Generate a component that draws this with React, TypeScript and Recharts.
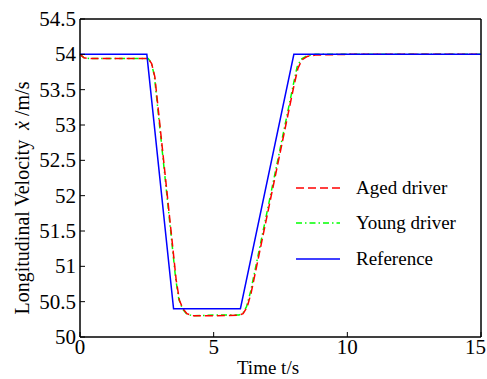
import React from "react";
import {
  LineChart,
  Line,
  XAxis,
  YAxis,
  Legend,
  ReferenceArea,
} from "recharts";

// velocity traces (t in s, v in m/s)
const referenceSpeed = [
  { t: 0, v: 54 },
  { t: 2.5, v: 54 },
  { t: 3.5, v: 50.4 },
  { t: 6, v: 50.4 },
  { t: 8, v: 54 },
  { t: 15, v: 54 },
];

const agedDriver = [
  { t: 0, v: 54.0 },
  { t: 0.15, v: 53.95 },
  { t: 0.4, v: 53.94 },
  { t: 2.55, v: 53.94 },
  { t: 2.68, v: 53.87 },
  { t: 2.8, v: 53.68 },
  { t: 3.6, v: 50.8 },
  { t: 3.72, v: 50.52 },
  { t: 3.85, v: 50.4 },
  { t: 4.0, v: 50.33 },
  { t: 4.2, v: 50.3 },
  { t: 5.0, v: 50.3 },
  { t: 5.95, v: 50.31 },
  { t: 6.1, v: 50.33 },
  { t: 6.25, v: 50.42 },
  { t: 6.4, v: 50.62 },
  { t: 8.0, v: 53.55 },
  { t: 8.15, v: 53.8 },
  { t: 8.3, v: 53.92 },
  { t: 8.5, v: 53.97 },
  { t: 8.8, v: 53.99 },
  { t: 10, v: 54.0 },
  { t: 15, v: 54.0 },
];

const youngDriver = [
  { t: 0, v: 54.0 },
  { t: 0.15, v: 53.95 },
  { t: 0.4, v: 53.94 },
  { t: 2.55, v: 53.94 },
  { t: 2.67, v: 53.88 },
  { t: 2.78, v: 53.7 },
  { t: 3.58, v: 50.82 },
  { t: 3.7, v: 50.53 },
  { t: 3.83, v: 50.4 },
  { t: 3.98, v: 50.33 },
  { t: 4.2, v: 50.3 },
  { t: 5.0, v: 50.31 },
  { t: 5.95, v: 50.31 },
  { t: 6.1, v: 50.34 },
  { t: 6.23, v: 50.43 },
  { t: 6.38, v: 50.64 },
  { t: 7.98, v: 53.57 },
  { t: 8.12, v: 53.82 },
  { t: 8.27, v: 53.93 },
  { t: 8.5, v: 53.98 },
  { t: 8.8, v: 54.0 },
  { t: 10, v: 54.0 },
  { t: 15, v: 54.0 },
];

const xTicks = [0, 5, 10, 15];
const yTicks = [50, 50.5, 51, 51.5, 52, 52.5, 53, 53.5, 54, 54.5];

const FONT = "Liberation Serif";

const legendItems = [
  { name: "Aged driver", color: "#ff0000", dash: "8 4" },
  { name: "Young driver", color: "#00ff00", dash: "6 3 1.5 3" },
  { name: "Reference", color: "#0000ff", dash: undefined },
];

function LegendBox() {
  return (
    <div style={{ fontFamily: FONT, fontSize: 19, color: "#000" }}>
      {legendItems.map((it) => (
        <div
          key={it.name}
          style={{ display: "flex", alignItems: "center", height: 35.5 }}
        >
          <svg width={44} height={6} style={{ marginRight: 16 }}>
            <line
              x1={0}
              y1={3}
              x2={44}
              y2={3}
              stroke={it.color}
              strokeWidth={1.5}
              strokeDasharray={it.dash}
            />
          </svg>
          <span>{it.name}</span>
        </div>
      ))}
    </div>
  );
}

function YTitle() {
  return (
    <text
      x={22}
      y={198}
      transform="rotate(-90 22 198)"
      textAnchor="middle"
      dominantBaseline="central"
      fontFamily={FONT}
      fontSize={20}
      fill="#000"
    >
      {"Longitudinal Velocity\u00a0\u00a0"}
      <tspan fontStyle="italic">{"x\u0307"}</tspan>
      {" /m/s"}
    </text>
  );
}

function XTitle() {
  return (
    <text
      x={268}
      y={367}
      textAnchor="middle"
      dominantBaseline="central"
      fontFamily={FONT}
      fontSize={19}
      fill="#000"
    >
      Time t/s
    </text>
  );
}

function XTick({ x, y, payload }: any) {
  // the last label sits against the right edge, keep it inside the page
  const last = payload.value === xTicks[xTicks.length - 1];
  return (
    <text
      x={last ? 486 : x}
      y={y}
      dy={15}
      textAnchor={last ? "end" : "middle"}
      fontFamily={FONT}
      fontSize={21}
      fill="#000"
    >
      {payload.value}
    </text>
  );
}

function YTick({ x, y, payload }: any) {
  return (
    <text
      x={x}
      y={y}
      dy={7}
      textAnchor="end"
      fontFamily={FONT}
      fontSize={21}
      fill="#000"
    >
      {payload.value}
    </text>
  );
}

export default function App() {
  return (
    <div
      style={{
        position: "absolute",
        left: 0,
        top: 0,
        background: "#fff",
        fontFamily: FONT,
      }}
    >
      <LineChart
        width={487}
        height={379}
        margin={{ top: 18, right: 5, left: 20, bottom: 12 }}
      >
        <XAxis
          dataKey="t"
          type="number"
          domain={[0, 15]}
          ticks={xTicks}
          height={30}
          tickSize={-5}
          tickMargin={7}
          tick={<XTick />}
          stroke="#000"
          label={<XTitle />}
          allowDuplicatedCategory={false}
        />
        <XAxis
          xAxisId="top"
          orientation="top"
          type="number"
          domain={[0, 15]}
          ticks={xTicks}
          height={1}
          tickSize={-5}
          tickFormatter={() => ""}
          stroke="#000"
        />
        <YAxis
          type="number"
          domain={[50, 54.5]}
          ticks={yTicks}
          width={60}
          tickSize={-5}
          tickMargin={9}
          tick={<YTick />}
          stroke="#000"
          label={<YTitle />}
        />
        <YAxis
          yAxisId="right"
          orientation="right"
          type="number"
          domain={[50, 54.5]}
          ticks={yTicks}
          width={1}
          tickSize={-5}
          tickFormatter={() => ""}
          stroke="#000"
        />
        <ReferenceArea
          x1={0}
          x2={15}
          y1={50}
          y2={54.5}
          fill="none"
          stroke="#000"
          strokeWidth={1}
        />
        <Line
          data={youngDriver}
          dataKey="v"
          name="Young driver"
          type="linear"
          stroke="#00ff00"
          strokeWidth={1.5}
          strokeDasharray="6 3 1.5 3"
          dot={false}
          isAnimationActive={false}
        />
        <Line
          data={agedDriver}
          dataKey="v"
          name="Aged driver"
          type="linear"
          stroke="#ff0000"
          strokeWidth={1.5}
          strokeDasharray="8 4"
          dot={false}
          isAnimationActive={false}
        />
        <Line
          data={referenceSpeed}
          dataKey="v"
          name="Reference"
          type="linear"
          stroke="#0000ff"
          strokeWidth={1.5}
          dot={false}
          isAnimationActive={false}
        />
        <Legend
          layout="horizontal"
          verticalAlign="middle"
          align="center"
          content={<LegendBox />}
          wrapperStyle={{ left: 296, top: 170, width: 190 }}
        />
      </LineChart>
    </div>
  );
}
